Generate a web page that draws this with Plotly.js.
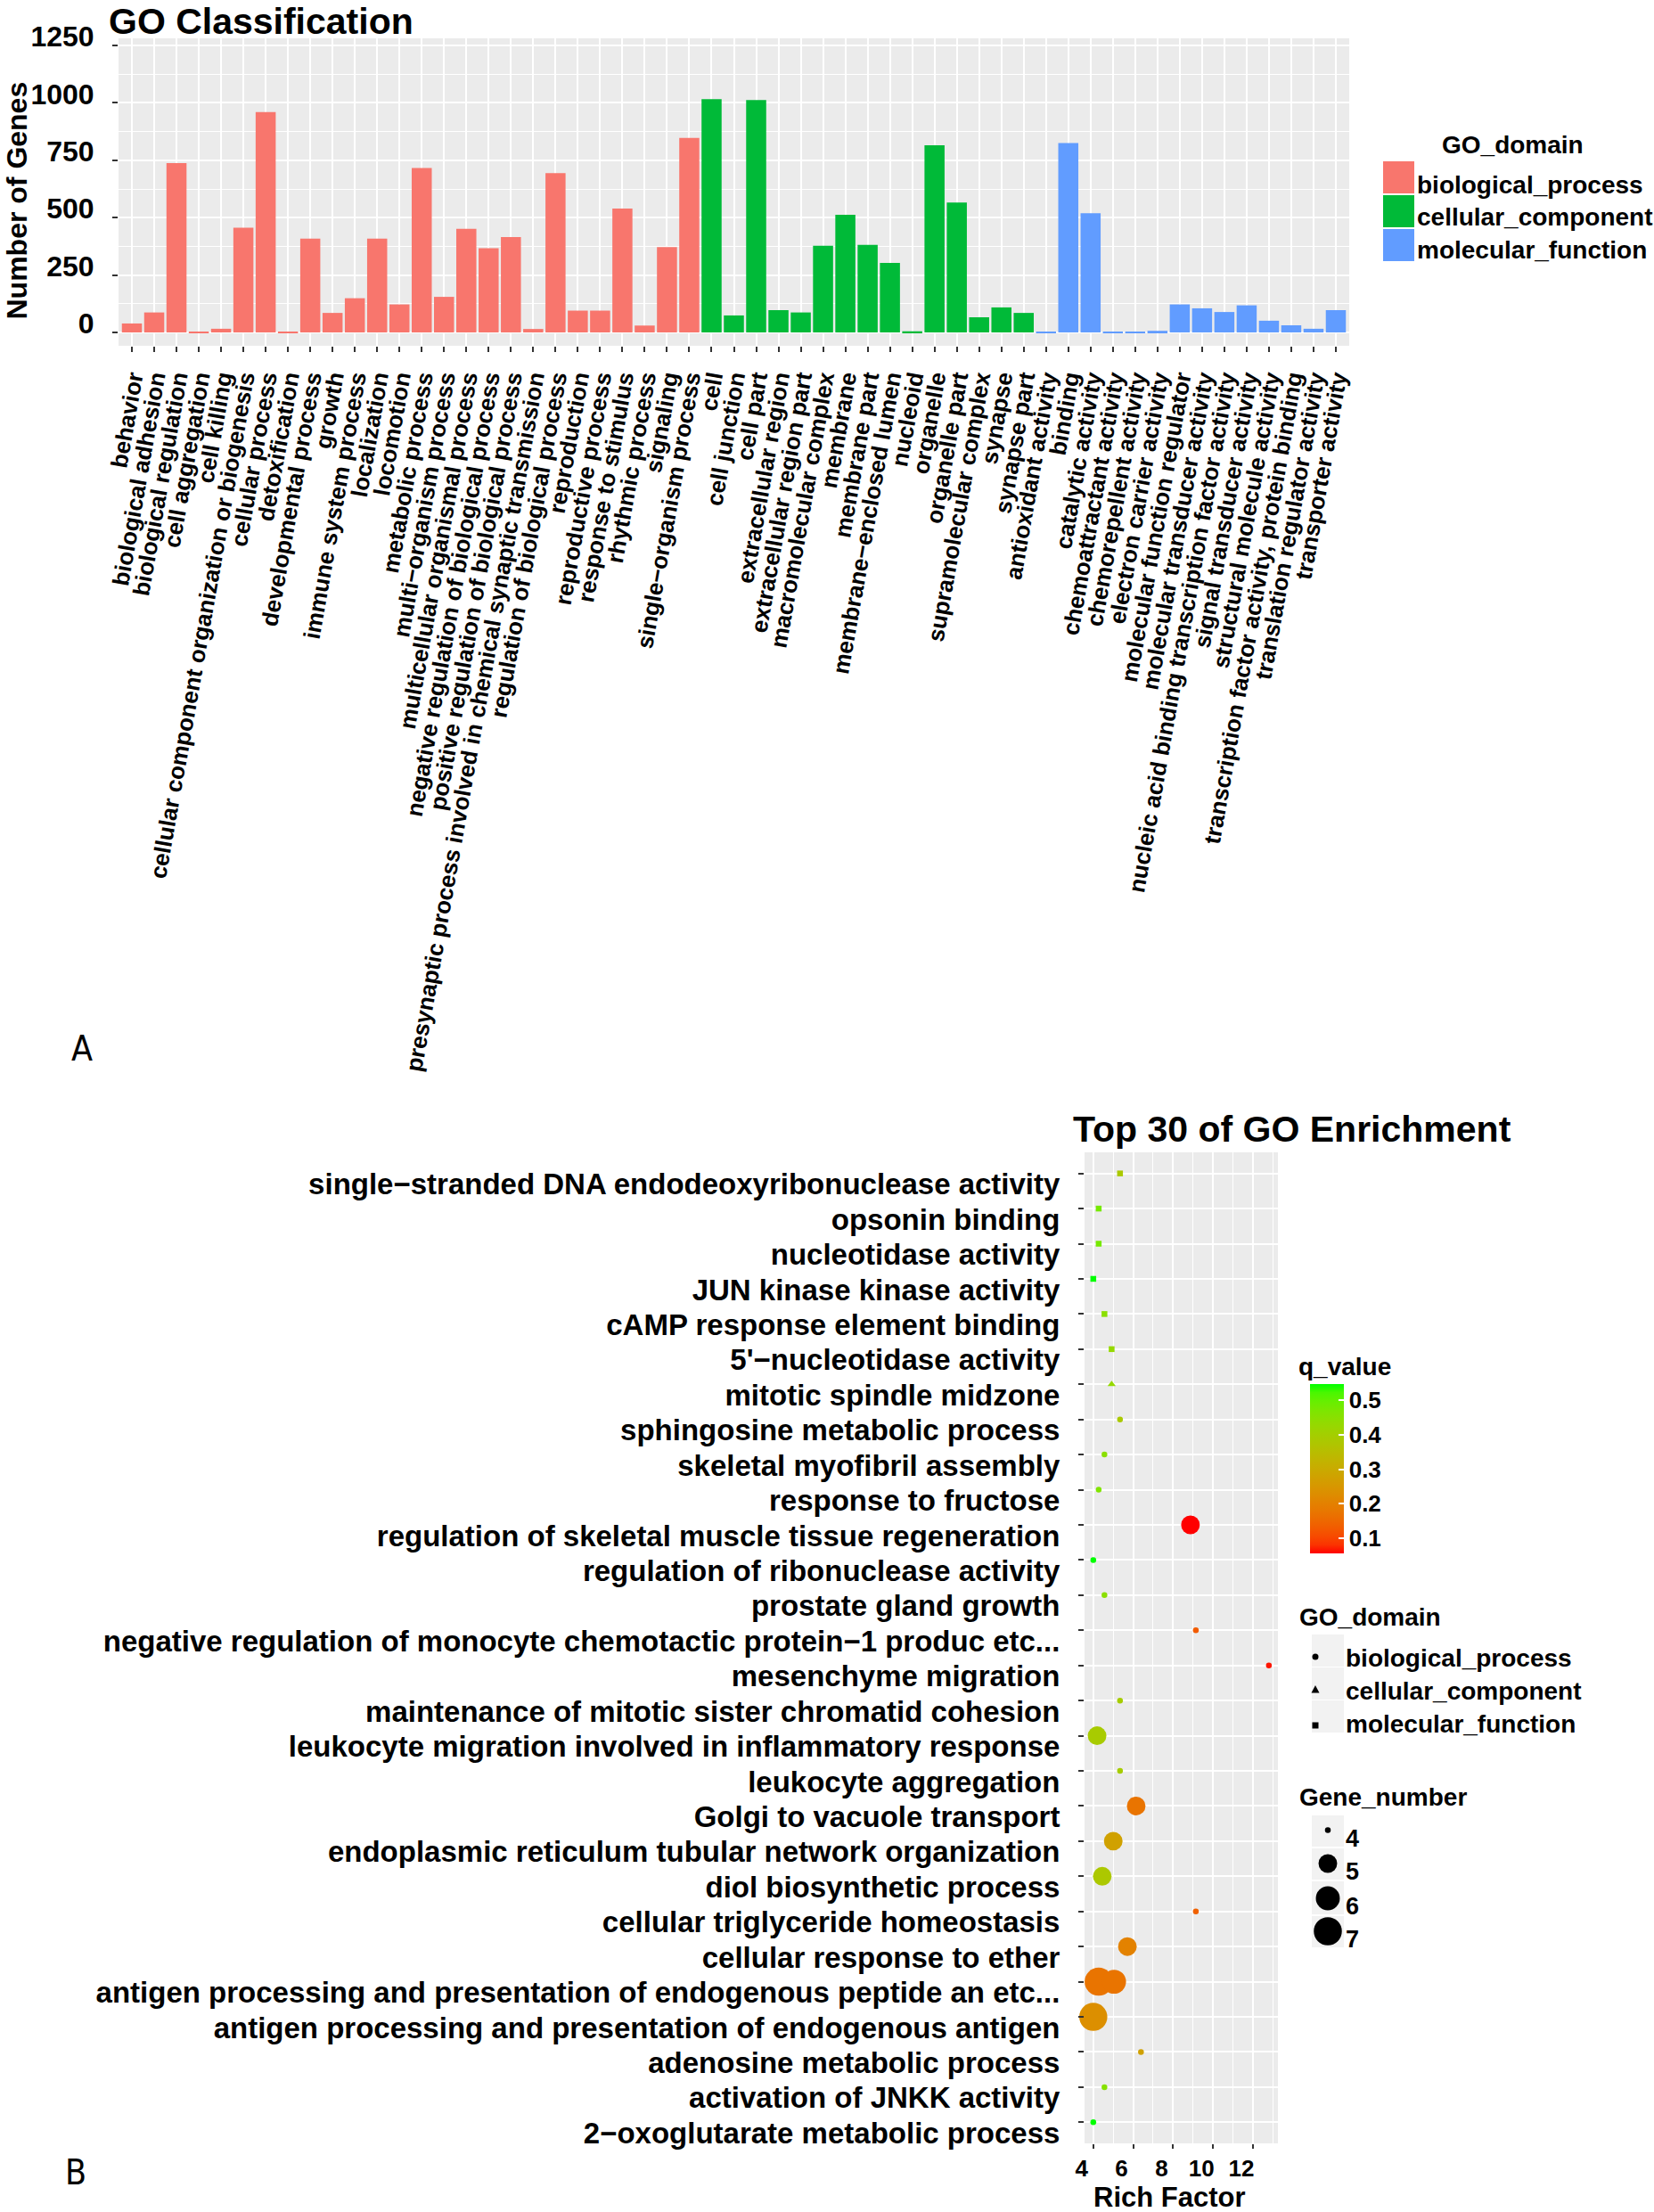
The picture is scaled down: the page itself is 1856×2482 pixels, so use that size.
<!DOCTYPE html>
<html>
<head>
<meta charset="utf-8">
<script src="https://cdn.plot.ly/plotly-3.0.1.min.js"></script>
<style>html,body{margin:0;padding:0;background:#fff;}#chart{width:1856px;height:2482px;}</style>
</head>
<body>
<div id="chart"></div>
<script>
// ---------- Panel A data : GO Classification ----------
const bpCats = ["behavior","biological adhesion","biological regulation","cell aggregation","cell killing",
  "cellular component organization or biogenesis","cellular process","detoxification","developmental process",
  "growth","immune system process","localization","locomotion","metabolic process","multi−organism process",
  "multicellular organismal process","negative regulation of biological process","positive regulation of biological process",
  "presynaptic process involved in chemical synaptic transmission","regulation of biological process","reproduction",
  "reproductive process","response to stimulus","rhythmic process","signaling","single−organism process"];
const bpVals = [39,87,738,4,16,456,960,4,409,85,149,409,122,716,155,451,367,415,15,694,95,95,540,30,372,847];

const ccCats = ["cell","cell junction","cell part","extracellular region","extracellular region part",
  "macromolecular complex","membrane","membrane part","membrane−enclosed lumen","nucleoid","organelle",
  "organelle part","supramolecular complex","synapse","synapse part"];
const ccVals = [1016,74,1012,97,87,378,512,381,303,5,815,566,66,109,85];

const mfCats = ["antioxidant activity","binding","catalytic activity","chemoattractant activity","chemorepellent activity",
  "electron carrier activity","molecular function regulator","molecular transducer activity",
  "nucleic acid binding transcription factor activity","signal transducer activity","structural molecule activity",
  "transcription factor activity, protein binding","translation regulator activity","transporter activity"];
const mfVals = [2,825,519,3,3,7,122,105,89,118,51,31,16,97];

const yTicksA = [0,250,500,750,1000,1250];

// ---------- Panel B data : Top 30 of GO Enrichment ----------
const enrichRows = [
  "single−stranded DNA endodeoxyribonuclease activity","opsonin binding","nucleotidase activity",
  "JUN kinase kinase activity","cAMP response element binding","5'−nucleotidase activity",
  "mitotic spindle midzone","sphingosine metabolic process","skeletal myofibril assembly","response to fructose",
  "regulation of skeletal muscle tissue regeneration","regulation of ribonuclease activity","prostate gland growth",
  "negative regulation of monocyte chemotactic protein−1 produc etc...","mesenchyme migration",
  "maintenance of mitotic sister chromatid cohesion","leukocyte migration involved in inflammatory response",
  "leukocyte aggregation","Golgi to vacuole transport","endoplasmic reticulum tubular network organization",
  "diol biosynthetic process","cellular triglyceride homeostasis","cellular response to ether",
  "antigen processing and presentation of endogenous peptide an etc...",
  "antigen processing and presentation of endogenous antigen","adenosine metabolic process",
  "activation of JNKK activity","2−oxoglutarate metabolic process"];

// one entry per point (row index into enrichRows)
const pointRow    = [0,1,2,3,4,5,6,7,8,9,10,11,12,13,14,15,16,17,18,19,20,21,22,23,23,24,25,26,27];
const richFactor  = [5.34,4.27,4.27,4.00,4.56,4.92,4.92,5.34,4.56,4.27,8.87,4.00,4.56,9.14,12.80,5.34,4.19,5.34,6.15,5.00,4.45,9.14,5.71,4.27,5.04,4.00,6.39,4.56,4.00];
const qValue      = [0.385,0.478,0.478,0.547,0.449,0.43,0.43,0.385,0.449,0.463,0.056,0.547,0.449,0.13,0.066,0.395,0.39,0.395,0.174,0.277,0.38,0.14,0.203,0.174,0.174,0.233,0.277,0.455,0.547];
const geneNumber  = [4,4,4,4,4,4,4,4,4,4,5,4,4,4,4,4,5,4,5,5,5,4,5,7,6,7,4,4,4];
const goDomain    = ["MF","MF","MF","MF","MF","MF","CC","BP","BP","BP","BP","BP","BP","BP","BP","BP","BP","BP","BP","BP","BP","BP","BP","BP","BP","BP","BP","BP","BP"];
const richTicks = [4,6,8,10,12];
const qTicks = [0.1,0.2,0.3,0.4,0.5];
const geneLegend = [4,5,6,7];
const domainNames = ["biological_process","cellular_component","molecular_function"];

// ---------- helpers ----------
const W = 1856, H = 2482;
const px = x => x / W;
const py = y => 1 - y / H;
const FONT = "Liberation Sans, Arial, Helvetica, sans-serif";
const bold = (size) => ({family: FONT, size: size, color: "#000000", weight: "bold"});
const diam = g => 5.0 * (1 + 5 * Math.sqrt(Math.max(g - 4, 0) / 3)) + 1.5;

// red -> green gradient interpolated in CIELAB (like ggplot)
function lab2rgb(L, a, b) {
  const fy = (L + 16) / 116, fx = fy + a / 500, fz = fy - b / 200;
  const finv = t => t > 6 / 29 ? t * t * t : 3 * (6 / 29) * (6 / 29) * (t - 4 / 29);
  const X = 0.95047 * finv(fx), Y = finv(fy), Z = 1.08883 * finv(fz);
  let r = 3.2406 * X - 1.5372 * Y - 0.4986 * Z;
  let g = -0.9689 * X + 1.8758 * Y + 0.0415 * Z;
  let bl = 0.0557 * X - 0.2040 * Y + 1.0570 * Z;
  const gam = c => { c = Math.max(0, Math.min(1, c)); return c <= 0.0031308 ? 12.92 * c : 1.055 * Math.pow(c, 1 / 2.4) - 0.055; };
  return "rgb(" + [r, g, bl].map(c => Math.round(gam(c) * 255)).join(",") + ")";
}
const labRed = [53.24, 80.09, 67.20], labGreen = [87.73, -86.18, 83.18];
const colorscale = [];
for (let i = 0; i <= 20; i++) {
  const t = i / 20;
  colorscale.push([t, lab2rgb(labRed[0] + t * (labGreen[0] - labRed[0]), labRed[1] + t * (labGreen[1] - labRed[1]), labRed[2] + t * (labGreen[2] - labRed[2]))]);
}

// ---------- traces ----------
const traces = [];
const allCats = bpCats.concat(ccCats, mfCats);
const barSpec = [[bpCats, bpVals, "biological_process", "#F8766D"], [ccCats, ccVals, "cellular_component", "#00BA38"], [mfCats, mfVals, "molecular_function", "#619CFF"]];
barSpec.forEach(s => traces.push({
  type: "bar", x: s[0], y: s[1], name: s[2], marker: {color: s[3], line: {width: 0}},
  width: 0.9, xaxis: "x", yaxis: "y", showlegend: false
}));

const symbolOf = {BP: "circle", CC: "triangle-up", MF: "square"};
["BP", "CC", "MF"].forEach((d, k) => {
  const idx = goDomain.map((v, i) => v === d ? i : -1).filter(i => i >= 0);
  traces.push({
    type: "scatter", mode: "markers", name: domainNames[k],
    x: idx.map(i => richFactor[i]), y: idx.map(i => enrichRows[pointRow[i]]),
    text: idx.map(i => "Gene_number " + geneNumber[i] + ", q " + qValue[i]),
    marker: {
      symbol: symbolOf[d],
      size: idx.map(i => d === "CC" ? diam(geneNumber[i]) + 1.5 : diam(geneNumber[i])),
      color: idx.map(i => qValue[i]), coloraxis: "coloraxis", opacity: 1, line: {width: 0}
    },
    xaxis: "x2", yaxis: "y2", showlegend: false, cliponaxis: false
  });
});

// ---------- legends drawn as shapes + annotations ----------
const shapes = [], annotations = [];
function ann(text, x, yBase, size, opts) {
  annotations.push(Object.assign({
    text: text, xref: "paper", yref: "paper", x: px(x), y: py(yBase - 0.35 * size),
    xanchor: "left", yanchor: "middle", showarrow: false, font: bold(size), borderpad: 0
  }, opts || {}));
}
function rect(x0, y0, x1, y1, color) {
  shapes.push({type: "rect", xref: "paper", yref: "paper", x0: px(x0), x1: px(x1), y0: py(y1), y1: py(y0),
    fillcolor: color, line: {width: 0}, layer: "above"});
}
function circ(cx, cy, d, color) {
  const r = d / 2;
  shapes.push({type: "circle", xref: "paper", yref: "paper", x0: px(cx - r), x1: px(cx + r), y0: py(cy + r), y1: py(cy - r),
    fillcolor: color, line: {width: 0}, layer: "above"});
}

// axis titles (placed like the reference)
annotations.push({text: "Number of Genes", xref: "paper", yref: "paper", x: px(18), y: py(225.5), textangle: -90,
  xanchor: "center", yanchor: "middle", showarrow: false, font: bold(32), borderpad: 0});
annotations.push({text: "Rich Factor", xref: "paper", yref: "paper", x: px(1312), y: py(2476 - 0.35 * 31),
  xanchor: "center", yanchor: "middle", showarrow: false, font: bold(31), borderpad: 0});

// Panel A legend
ann("GO_domain", 1617, 172, 28);
[["#F8766D", 181, 217], ["#00BA38", 219, 255], ["#619CFF", 257, 293]].forEach((k, i) => {
  rect(1552, k[1], 1587, k[2], k[0]);
  ann(domainNames[i], 1589, 217 + i * 36.5, 28);
});

// Panel B : q_value colorbar title
ann("q_value", 1456, 1543, 28);

// Panel B : GO_domain legend
ann("GO_domain", 1457, 1824, 28);
[[1834, 1870], [1871, 1907], [1908, 1944]].forEach((k, i) => {
  rect(1472, k[0], 1508, k[1], "#F2F2F2");
  ann(domainNames[i], 1509, 1870 + i * 37, 28);
});
circ(1476, 1859, 7, "#000000");
shapes.push({type: "path", xref: "paper", yref: "paper", layer: "above", fillcolor: "#000000", line: {width: 0},
  path: "M " + px(1471.5) + "," + py(1899.5) + " L " + px(1480.5) + "," + py(1899.5) + " L " + px(1476) + "," + py(1891) + " Z"});
rect(1472.5, 1932.5, 1479.5, 1939.5, "#000000");

// Panel B : Gene_number legend
ann("Gene_number", 1457, 2026, 28);
const keyTops = [2037, 2074, 2111, 2150], keyBots = [2072, 2109, 2148, 2185], dotY = [2053.5, 2091, 2130, 2167];
geneLegend.forEach((g, i) => {
  rect(1472, keyTops[i], 1508, keyBots[i], "#F2F2F2");
  circ(1490, dotY[i], diam(g), "#000000");
  ann(String(g), 1509, keyBots[i], 27);
});

// panel titles and panel letters
ann("Top 30 of GO Enrichment", 1203, 1281, 41);
annotations.push({text: "A", xref: "paper", yref: "paper", x: px(92), y: py(1176), xanchor: "center", yanchor: "middle",
  showarrow: false, font: {family: "Liberation Sans Narrow, DejaVu Sans Condensed, sans-serif", size: 39, color: "#000"}});
annotations.push({text: "B", xref: "paper", yref: "paper", x: px(85), y: py(2437), xanchor: "center", yanchor: "middle",
  showarrow: false, font: {family: "Liberation Sans Narrow, DejaVu Sans Condensed, sans-serif", size: 39, color: "#000"}});

// ---------- layout ----------
const axisCommon = {ticks: "outside", ticklen: 6, tickwidth: 2, tickcolor: "#333333", showgrid: true,
  gridcolor: "#FFFFFF", gridwidth: 2, zeroline: false, showline: false, automargin: false};

const layout = {
  width: W, height: H, margin: {l: 0, r: 0, t: 0, b: 0, pad: 0, autoexpand: false},
  paper_bgcolor: "#FFFFFF", plot_bgcolor: "#EBEBEB", barmode: "overlay", bargap: 0.1,
  font: {family: FONT, color: "#000000"},
  title: {text: "GO Classification", font: bold(41), xref: "container", yref: "container",
    x: px(122), xanchor: "left", y: 1 - (38 - 14.4) / H, yanchor: "middle", pad: {t: 0, b: 0, l: 0, r: 0}},
  xaxis: Object.assign({}, axisCommon, {
    domain: [px(133), px(1514)], anchor: "y", type: "category",
    categoryorder: "array", categoryarray: allCats,
    tickmode: "array", tickvals: allCats, ticktext: allCats,
    range: [-0.6, 54.6], tickangle: -80, tickfont: bold(26), ticklabelstandoff: 4
  }),
  yaxis: Object.assign({}, axisCommon, {
    domain: [py(388), py(43)], anchor: "x", range: [-58.2, 1281],
    tickmode: "array", tickvals: yTicksA, ticktext: yTicksA.map(String), tickfont: bold(32),
    ticklabelstandoff: 14, ticklabelshift: -10,
    minor: {tickvals: [125, 375, 625, 875, 1125], showgrid: true, gridcolor: "#FFFFFF", gridwidth: 1, ticks: ""}
  }),
  xaxis2: Object.assign({}, axisCommon, {
    domain: [px(1217), px(1434)], anchor: "y2", range: [3.562, 13.254], ticklen: 5,
    tickmode: "array", tickvals: richTicks, ticktext: richTicks.map(String), tickfont: bold(26), ticklabelshift: -13,
    minor: {tickvals: [5, 7, 9, 11, 13], showgrid: true, gridcolor: "#FFFFFF", gridwidth: 1, ticks: ""}
  }),
  yaxis2: Object.assign({}, axisCommon, {
    domain: [py(2405), py(1293)], anchor: "x2", type: "category",
    categoryorder: "array", categoryarray: enrichRows, range: [27.6, -0.6],
    tickmode: "array", tickvals: enrichRows, ticktext: enrichRows,
    tickfont: bold(33), ticklabelstandoff: 14, ticklabelshift: -12
  }),
  coloraxis: {
    cmin: 0.056, cmax: 0.547, colorscale: colorscale,
    colorbar: {
      x: px(1470), xanchor: "left", xref: "container", y: py(1648), yanchor: "middle", yref: "container",
      len: 190, lenmode: "pixels", thickness: 38, thicknessmode: "pixels", outlinewidth: 0,
      xpad: 0, ypad: 0, ticks: "inside", ticklen: 6, tickwidth: 1.5, tickcolor: "#FFFFFF",
      ticklabelposition: "outside",
      tickmode: "array", tickvals: qTicks, ticktext: qTicks.map(String), tickfont: bold(26)
    }
  },
  shapes: shapes, annotations: annotations, showlegend: false, hovermode: "closest"
};

Plotly.newPlot("chart", traces, layout, {displayModeBar: false, staticPlot: false});
</script>
</body>
</html>
